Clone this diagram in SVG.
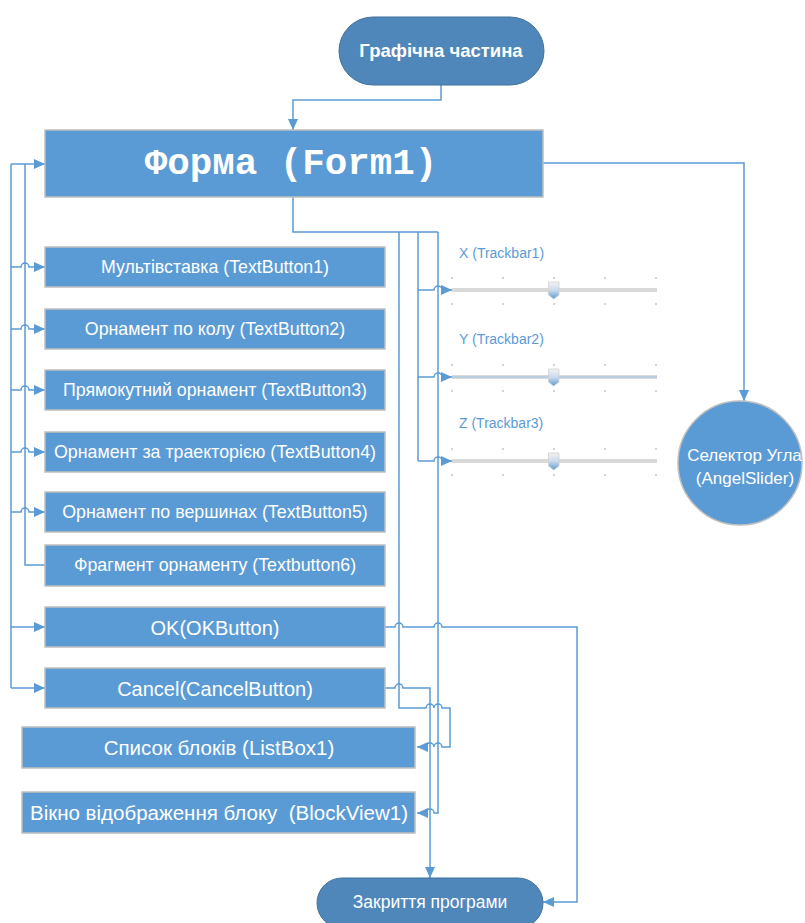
<svg xmlns="http://www.w3.org/2000/svg" width="805" height="923" viewBox="0 0 805 923">
<defs>
<style>
.node{fill:#5B9BD5;stroke:#BFBFBF;stroke-width:1.5}
.term{fill:#4F87BB;stroke:#41719C;stroke-width:1}
.t{font-family:"Liberation Sans",Arial,sans-serif;fill:#fff;text-anchor:middle}
.s{font-size:17.8px}
.m{font-size:20px}
.l{font-size:20.5px}
.lbl{font-family:"Liberation Sans",Arial,sans-serif;font-size:14px;fill:#5B9BD5}
.c{fill:none;stroke:#5B9BD5;stroke-width:1.5}
.a{marker-end:url(#arr)}
.track{fill:#D9D9D9}
.tick{fill:#9A9A9A}
</style>
<marker id="arr" markerUnits="userSpaceOnUse" markerWidth="11" markerHeight="10" refX="11" refY="5" orient="auto">
<path d="M0 0 L11 5 L0 10 z" fill="#5B9BD5"/>
</marker>
<linearGradient id="thumb" x1="0" y1="0" x2="0" y2="1">
<stop offset="0" stop-color="#F2F2F2"/>
<stop offset="0.5" stop-color="#C9D9EC"/>
<stop offset="1" stop-color="#5B9BD5"/>
</linearGradient>
<g id="trk">
<rect class="track" x="452" y="-2" width="205" height="4"/>
<circle class="tick" cx="452" cy="-12" r="0.8"/><circle class="tick" cx="503" cy="-12" r="0.8"/><circle class="tick" cx="554" cy="-12" r="0.8"/><circle class="tick" cx="605" cy="-12" r="0.8"/><circle class="tick" cx="656" cy="-12" r="0.8"/>
<circle class="tick" cx="452" cy="14" r="0.8"/><circle class="tick" cx="503" cy="14" r="0.8"/><circle class="tick" cx="554" cy="14" r="0.8"/><circle class="tick" cx="605" cy="14" r="0.8"/><circle class="tick" cx="656" cy="14" r="0.8"/>
</g>
<path id="thm" d="M548.5 -8 H559 V5 L553.7 9 L548.5 5 Z" fill="url(#thumb)" stroke="#CFCFCF" stroke-width="0.8"/>
</defs>
<rect width="805" height="923" fill="#fff"/>

<g id="connectors">
<path class="c a" d="M441 85 V100 H293 V130"/>
<path class="c a" d="M543 163 H744 V401"/>
<path class="c" d="M11 688 V164 M25 164 V565 H45"/>
<path class="c a" d="M11 164 H45"/>
<path class="c a" d="M11 267 H21 A4 4 0 0 1 29 267 H45"/>
<path class="c a" d="M11 329 H21 A4 4 0 0 1 29 329 H45"/>
<path class="c a" d="M11 390 H21 A4 4 0 0 1 29 390 H45"/>
<path class="c a" d="M11 452 H21 A4 4 0 0 1 29 452 H45"/>
<path class="c a" d="M11 512 H21 A4 4 0 0 1 29 512 H45"/>
<path class="c a" d="M11 627 H45"/>
<path class="c a" d="M11 688 H45"/>
<path class="c" d="M293 197 V232 H438"/>
<path class="c" d="M418 232 V461"/>
<path class="c a" d="M418 290 H434 A4 4 0 0 1 442 290 H452"/>
<path class="c a" d="M418 377 H434 A4 4 0 0 1 442 377 H452"/>
<path class="c a" d="M418 461 H434 A4 4 0 0 1 442 461 H452"/>
<path class="c a" d="M438 232 V813 H434 A4 4 0 0 0 426 813 H417"/>
<path class="c a" d="M399 232 V708 H426 A4 4 0 0 1 434 708 A4 4 0 0 1 442 708 H450 V747 H442 A4 4 0 0 0 434 747 A4 4 0 0 0 426 747 H417"/>
<path class="c a" d="M385 688 H395 A4 4 0 0 1 403 688 H430 V878"/>
<path class="c a" d="M385 627 H395 A4 4 0 0 1 403 627 H434 A4 4 0 0 1 442 627 H577 V902 H543"/>
</g>

<g id="start">
<rect class="term" x="339" y="17" width="205" height="68" rx="34"/>
<text class="t" x="441" y="57" style="font-size:18.5px;font-weight:bold">Графічна частина</text>
</g>

<g id="form1">
<rect class="node" x="45" y="130" width="498" height="67"/>
<text class="t" x="291" y="174" style="font-family:'Liberation Mono','Courier New',monospace;font-size:37.5px;font-weight:bold">Форма (Form1)</text>
</g>

<g id="tb1"><rect class="node" x="45" y="247" width="340" height="40"/><text class="t s" x="215" y="273">Мультівставка (TextButton1)</text></g>
<g id="tb2"><rect class="node" x="45" y="309" width="340" height="40"/><text class="t s" x="215" y="335">Орнамент по колу (TextButton2)</text></g>
<g id="tb3"><rect class="node" x="45" y="370" width="340" height="40"/><text class="t s" x="215" y="396">Прямокутний орнамент (TextButton3)</text></g>
<g id="tb4"><rect class="node" x="45" y="432" width="340" height="40"/><text class="t s" x="215" y="458">Орнамент за траекторією (TextButton4)</text></g>
<g id="tb5"><rect class="node" x="45" y="492" width="340" height="40"/><text class="t s" x="215" y="518">Орнамент по вершинах (TextButton5)</text></g>
<g id="tb6"><rect class="node" x="45" y="545" width="340" height="41"/><text class="t s" x="215" y="571">Фрагмент орнаменту (Textbutton6)</text></g>
<g id="ok"><rect class="node" x="45" y="607" width="340" height="40"/><text class="t m" x="215" y="635">OK(OKButton)</text></g>
<g id="cancel"><rect class="node" x="45" y="668" width="340" height="40"/><text class="t m" x="215" y="696">Cancel(CancelButton)</text></g>
<g id="listbox"><rect class="node" x="22" y="727" width="393" height="41"/><text class="t l" x="219" y="755">Список блоків (ListBox1)</text></g>
<g id="blockview"><rect class="node" x="22" y="792" width="393" height="41"/><text class="t l" x="219" y="820" xml:space="preserve">Вікно відображення блоку  (BlockView1)</text></g>

<g id="trackbar1">
<text class="lbl" x="459" y="258">X (Trackbar1)</text>
<use href="#trk" y="290"/><use href="#thm" y="290"/>
</g>
<g id="trackbar2">
<text class="lbl" x="459" y="344">Y (Trackbar2)</text>
<use href="#trk" y="377"/>
<line x1="452" y1="377" x2="657" y2="377" stroke="#9DC3E6" stroke-width="1"/>
<use href="#thm" y="377"/>
</g>
<g id="trackbar3">
<text class="lbl" x="459" y="428">Z (Trackbar3)</text>
<use href="#trk" y="461"/><use href="#thm" y="461"/>
</g>

<g id="angelslider">
<circle class="node" cx="740" cy="463" r="62"/>
<text class="t" x="744.5" y="461" style="font-size:17px">Селектор Угла</text>
<text class="t" x="745" y="484" style="font-size:17px">(AngelSlider)</text>
</g>

<g id="end">
<rect class="term" x="317" y="878" width="226" height="50" rx="25"/>
<text class="t" x="430" y="908" style="font-size:17.5px">Закриття програми</text>
</g>
</svg>
